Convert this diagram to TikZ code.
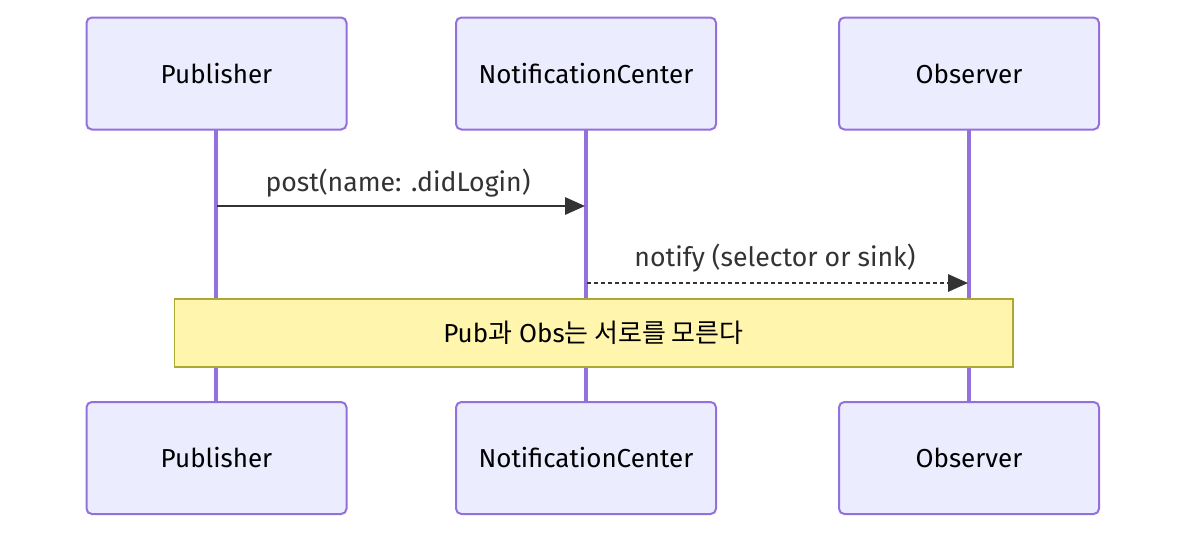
\documentclass[tikz,border=0pt]{standalone}
\usepackage{fontspec}
\setmainfont{Fira Sans}
\newfontfamily\krfont{Noto Sans CJK KR}
\usetikzlibrary{arrows.meta}
\definecolor{actfill}{HTML}{ECECFF}
\definecolor{actline}{HTML}{9370DB}
\definecolor{notefill}{HTML}{FFF5AD}
\definecolor{noteline}{HTML}{AAAA33}
\definecolor{msg}{HTML}{333333}
\begin{document}
\begin{tikzpicture}[x=0.75pt,y=-0.75pt,
  actor/.style={draw=actline,fill=actfill,line width=1.5pt,rounded corners=4pt,minimum width=195pt,minimum height=84pt,font=\fontsize{19.5}{22}\selectfont,inner sep=0pt},
  life/.style={draw=actline,line width=2.4pt},
  msgline/.style={draw=msg,line width=1.6pt,-{Triangle[length=15pt,width=13pt]}},
  lbl/.style={font=\fontsize{20}{22}\selectfont,text=msg,inner sep=0pt}]
\useasboundingbox[fill=white] (0,0) rectangle (1200,540);
% lifelines
\draw[life] (216,130) -- (216,402);
\draw[life] (586,130) -- (586,402);
\draw[life] (969,130) -- (969,402);
% actors top
\node[actor] (p1) at (216.5,73.5) {Publisher};
\node[actor] (n1) at (586,73.5) {NotificationCenter};
\node[actor] (o1) at (969,73.5) {Observer};
\node[actor] (p2) at (216.5,458) {Publisher};
\node[actor] (n2) at (586,458) {NotificationCenter};
\node[actor] (o2) at (969,458) {Observer};
% messages
\coordinate (a1) at (217,206);
\coordinate (b1) at (585,206);
\draw[msgline] (a1) -- (b1);
\node[lbl] (m1) at (398,183) {post(name: .didLogin)};
\coordinate (a2) at (587,283);
\coordinate (b2) at (968,283);
\draw[msgline,dash pattern=on 3pt off 2.3pt] (a2) -- (b2);
\node[lbl] (m2) at (775,258) {notify (selector or sink)};
% note
\node[draw=noteline,fill=notefill,line width=1pt,minimum width=629pt,minimum height=51pt,inner sep=0pt,font=\fontsize{19.5}{22}\selectfont] (note) at (593.5,333) {Pub{\krfont 과} Obs{\krfont 는 서로를 모른다}};
\end{tikzpicture}
\end{document}
